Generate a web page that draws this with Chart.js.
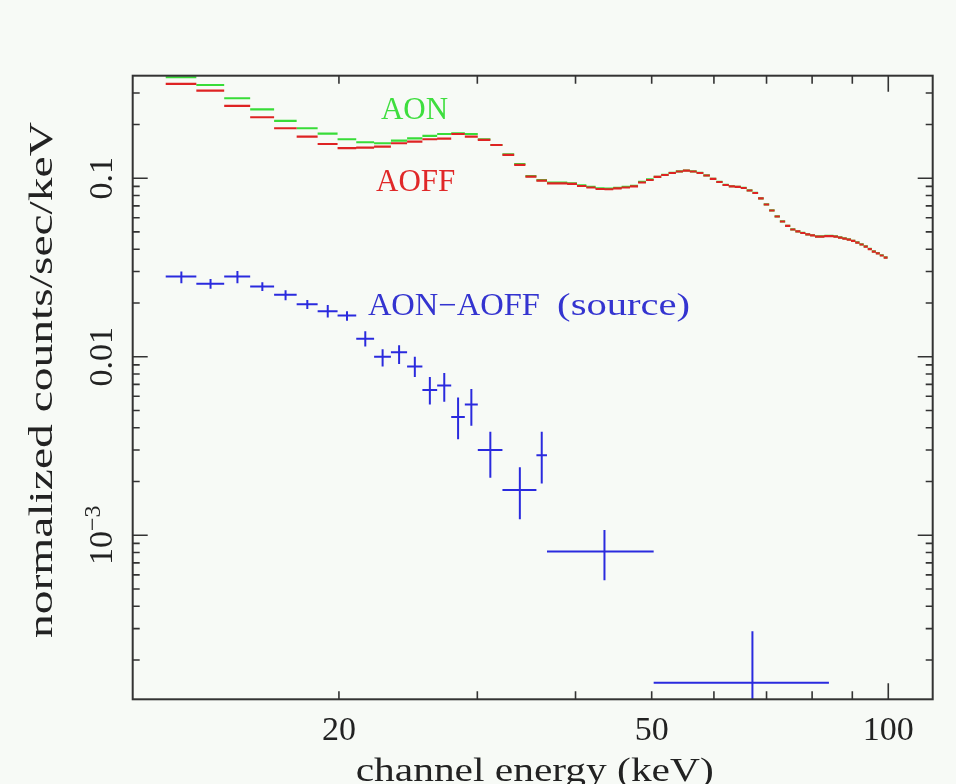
<!DOCTYPE html>
<html><head><meta charset="utf-8">
<script src="https://cdn.jsdelivr.net/npm/chart.js@4/dist/chart.umd.min.js"></script>
<style>html,body{margin:0;padding:0;background:#f7faf6;}canvas{display:block}</style>
</head><body>
<div style="width:956px;height:784px"><canvas id="c" width="956" height="784"></canvas></div>
<script>
// ---------- DATA ----------
// channel bin edges (keV)
const channelEdges = [12.04,13.17,14.29,15.42,16.54,17.67,18.79,19.92,21.04,22.17,23.29,24.42,25.54,26.67,27.79,28.92,30.04,31.17,32.29,33.42,34.54,35.67,36.79,37.92,39.04,40.17,41.29,42.42,43.54,44.67,45.79,46.92,48.04,49.17,50.29,51.42,52.54,53.67,54.79,55.92,57.04,58.17,59.29,60.42,61.54,62.67,63.79,64.92,66.04,67.17,68.29,69.42,70.54,71.67,72.79,73.92,75.04,76.17,77.29,78.42,79.54,80.67,81.79,82.92,84.04,85.17,86.29,87.42,88.54,89.67,90.79,91.92,93.04,94.17,95.29,96.42,97.54,98.67,99.79];
// AON (green) normalized counts/sec/keV per channel
const aonRate = [0.3675,0.3327,0.2804,0.2432,0.2092,0.1904,0.1776,0.1652,0.1589,0.1569,
 0.1622,0.1673,0.1724,0.1768,0.1785,0.1768,0.1652,0.1534,0.1361,0.1201,
 0.1026,0.0976,0.0945,0.0944,0.0936,0.0912,0.0895,0.0878,0.0875,0.0884,
 0.0895,0.0907,0.0954,0.0985,0.1018,0.1044,0.1071,0.1092,0.1104,0.1092,
 0.1071,0.1037,0.0992,0.0954,0.0918,0.0901,0.0895,0.0883,0.0855,0.0828,
 0.0771,0.0713,0.0660,0.0611,0.0573,0.0541,0.0517,0.0504,0.0494,0.0485,
 0.0479,0.0472,0.0472,0.0475,0.0475,0.0472,0.0466,0.0460,0.0454,0.0446,
 0.0437,0.0426,0.0415,0.0402,0.0389,0.0380,0.0370,0.0360];
// AOFF (red)
const aoffRate = [0.3371,0.3092,0.2538,0.2194,0.1904,0.1708,0.1554,0.1473,0.1482,0.1501,
 0.1569,0.1602,0.1652,0.1665,0.1768,0.1708,0.1637,0.1534,0.1349,0.1186,
 0.1019,0.0968,0.0936,0.0936,0.0928,0.0904,0.0887,0.0870,0.0867,0.0876,
 0.0887,0.0899,0.0946,0.0977,0.1016,0.1042,0.1069,0.1090,0.1102,0.1090,
 0.1069,0.1035,0.0990,0.0952,0.0916,0.0899,0.0893,0.0881,0.0853,0.0826,
 0.0770,0.0712,0.0659,0.0610,0.0572,0.0540,0.0516,0.0503,0.0493,0.0484,
 0.0478,0.0471,0.0471,0.0474,0.0474,0.0471,0.0465,0.0459,0.0453,0.0445,
 0.0436,0.0425,0.0414,0.0401,0.0388,0.0379,0.0369,0.0359];
// AON-AOFF (source), grouped bins
const srcELo = [12.04,13.17,14.29,15.42,16.54,17.67,18.79,19.92,21.04,22.17,23.29,24.42,25.54,26.67,27.79,28.92,30.04,32.29,35.67,36.79,50.29];
const srcEHi = [13.17,14.29,15.42,16.54,17.67,18.79,19.92,21.04,22.17,23.29,24.42,25.54,26.67,27.79,28.92,30.04,32.29,35.67,36.79,50.29,84.04];
const srcRate = [0.0281,0.0256,0.0281,0.0247,0.0222,0.0197,0.0180,0.0170,0.0126,0.0100,0.0106,0.0088,0.0065,0.0069,0.0046,0.0054,0.0030,0.00179,0.00281,0.00081,0.000149];
const srcLo   = [0.0258,0.0240,0.0258,0.0233,0.0207,0.0185,0.0166,0.0159,0.0114,0.0088,0.0091,0.0077,0.0054,0.0056,0.00345,0.0041,0.0021,0.00123,0.00195,0.00056,0.00001];
const srcHi   = [0.0300,0.0272,0.0302,0.0261,0.0236,0.0208,0.0195,0.0180,0.0139,0.0110,0.0116,0.0100,0.0077,0.0081,0.0059,0.0066,0.0038,0.0024,0.0038,0.00107,0.00029];
// axis ticks
const xTickValues = [20, 50, 100];
const xTickText = ["20", "50", "100"];
const xMajorTicks = [100];
const xMinorTicks = [20, 30, 40, 50, 60, 70, 80, 90];
const yTickValues = [0.1, 0.01, 0.001];
const yTickText = ["0.1", "0.01", "10^-3"];
const yMinorTicks = [0.3,0.2,0.09,0.08,0.07,0.06,0.05,0.04,0.03,0.02,0.009,0.008,0.007,0.006,0.005,0.004,0.003,0.002,0.0009,0.0008,0.0007,0.0006,0.0005,0.0004,0.0003,0.0002];
const seriesNames = ["AON", "AOFF", "AON\u2212AOFF", "(source)"];
const xTitle = "channel energy (keV)";
const yTitle = "normalized counts/sec/keV";

// ---------- build datasets ----------
function stepSegments(edges, vals) {
  const pts = [];
  for (let i = 0; i < vals.length; i++) {
    pts.push({x: edges[i], y: vals[i]});
    pts.push({x: edges[i+1], y: vals[i]});
    pts.push({x: edges[i+1], y: null});
  }
  return pts;
}
function srcHoriz() {
  const pts = [];
  for (let i = 0; i < srcRate.length; i++) {
    pts.push({x: srcELo[i], y: srcRate[i]});
    pts.push({x: srcEHi[i], y: srcRate[i]});
    pts.push({x: srcEHi[i], y: null});
  }
  return pts;
}
function srcVert() {
  const pts = [];
  for (let i = 0; i < srcRate.length; i++) {
    const m = (srcELo[i] + srcEHi[i]) / 2;
    pts.push({x: m, y: srcLo[i]});
    pts.push({x: m, y: srcHi[i]});
    pts.push({x: m, y: null});
  }
  return pts;
}
const GREEN = '#38dc38', RED = '#de2323', BLUE = '#2a2ade';
const common = {pointRadius: 0, fill: false, tension: 0, spanGaps: false, borderCapStyle: 'butt'};
const datasets = [
  Object.assign({label: 'src-x', data: srcHoriz(), borderColor: BLUE, borderWidth: 2}, common),
  Object.assign({label: 'src-y', data: srcVert(), borderColor: BLUE, borderWidth: 2}, common),
  Object.assign({label: 'AOFF', data: stepSegments(channelEdges, aoffRate), borderColor: RED, borderWidth: 2.2}, common),
  Object.assign({label: 'AON', data: stepSegments(channelEdges, aonRate), borderColor: GREEN, borderWidth: 2.2}, common)
];

// ---------- drawing helpers ----------
const FONT = '"Liberation Serif", "Times New Roman", serif';
function drawText(ctx, text, x, y, size, opts) {
  opts = opts || {};
  ctx.save();
  ctx.font = size + 'px ' + FONT;
  ctx.fillStyle = opts.color || '#222';
  ctx.textBaseline = 'alphabetic';
  ctx.textAlign = opts.align || 'left';
  ctx.translate(x, y);
  if (opts.rotate) ctx.rotate(-Math.PI / 2);
  if (opts.width) {
    const w = ctx.measureText(text).width;
    ctx.scale(opts.width / w, 1);
  }
  ctx.fillText(text, 0, 0);
  ctx.restore();
}

const bgPlugin = {
  id: 'bg',
  beforeDraw(chart) {
    const c = chart.ctx;
    c.save();
    c.fillStyle = '#f7faf6';
    c.fillRect(0, 0, chart.width, chart.height);
    c.restore();
  }
};

const framePlugin = {
  id: 'frame',
  afterDraw(chart) {
    const c = chart.ctx, a = chart.chartArea;
    const xs = chart.scales.x, ys = chart.scales.y;
    c.save();
    c.strokeStyle = '#333';
    c.lineWidth = 2;
    c.strokeRect(a.left, a.top, a.right - a.left, a.bottom - a.top);
    c.lineWidth = 1.6;
    c.beginPath();
    yTickValues.forEach(v => {
      const p = ys.getPixelForValue(v);
      c.moveTo(a.left, p); c.lineTo(a.left + 15, p);
      c.moveTo(a.right, p); c.lineTo(a.right - 15, p);
    });
    yMinorTicks.forEach(v => {
      const p = ys.getPixelForValue(v);
      c.moveTo(a.left, p); c.lineTo(a.left + 7, p);
      c.moveTo(a.right, p); c.lineTo(a.right - 7, p);
    });
    xMajorTicks.forEach(v => {
      const p = xs.getPixelForValue(v);
      c.moveTo(p, a.bottom); c.lineTo(p, a.bottom - 16);
      c.moveTo(p, a.top); c.lineTo(p, a.top + 16);
    });
    xMinorTicks.forEach(v => {
      const p = xs.getPixelForValue(v);
      c.moveTo(p, a.bottom); c.lineTo(p, a.bottom - 8);
      c.moveTo(p, a.top); c.lineTo(p, a.top + 8);
    });
    c.stroke();
    c.restore();

    // x tick labels
    xTickValues.forEach((v, i) => {
      drawText(c, xTickText[i], xs.getPixelForValue(v), 740, 34, {align: 'center'});
    });
    // y tick labels (rotated)
    yTickValues.forEach((v, i) => {
      const p = ys.getPixelForValue(v);
      const t = yTickText[i];
      if (t.indexOf('^') >= 0) {
        const parts = t.split('^');
        const sup = parts[1].replace('-', '\u2212');
        c.save();
        c.font = '34px ' + FONT;
        const w1 = c.measureText(parts[0]).width;
        c.font = '24px ' + FONT;
        const w2 = c.measureText(sup).width;
        c.restore();
        const total = w1 + w2;
        drawText(c, parts[0], 112, p + total / 2, 34, {rotate: true});
        drawText(c, sup, 100, p + total / 2 - w1, 24, {rotate: true});
      } else {
        drawText(c, t, 112, p, 34, {rotate: true, align: 'center'});
      }
    });
    // axis titles
    drawText(c, xTitle, (a.left + a.right) / 2 + 2, 781, 34, {align: 'center', width: 358});
    drawText(c, yTitle, 52, 380, 34, {rotate: true, align: 'center', width: 516});

    // series annotations (placed in data coordinates)
    drawText(c, seriesNames[0], xs.getPixelForValue(22.62), ys.getPixelForValue(0.2146), 31, {color: '#3ede3e'});
    drawText(c, seriesNames[1], xs.getPixelForValue(22.30), ys.getPixelForValue(0.0848), 31, {color: '#e02828'});
    drawText(c, seriesNames[2], xs.getPixelForValue(21.77), ys.getPixelForValue(0.01713), 31, {color: '#3434d0', width: 172});
    drawText(c, seriesNames[3], xs.getPixelForValue(37.9), ys.getPixelForValue(0.01713), 31, {color: '#3434d0', width: 133});
  }
};

new Chart(document.getElementById('c'), {
  type: 'line',
  data: {datasets},
  options: {
    responsive: false,
    animation: false,
    devicePixelRatio: 1,
    layout: {padding: {top: 75.7, right: 23.3, left: 0, bottom: 0}},
    plugins: {legend: {display: false}, tooltip: {enabled: false}},
    scales: {
      x: {type: 'logarithmic', min: 10.93, max: 113.9,
          ticks: {display: false}, grid: {display: false}, border: {display: false},
          afterFit: s => { s.height = 84.7; }},
      y: {type: 'logarithmic', min: 1.205e-4, max: 0.375,
          ticks: {display: false}, grid: {display: false}, border: {display: false},
          afterFit: s => { s.width = 132.7; }}
    }
  },
  plugins: [bgPlugin, framePlugin]
});
</script>
</body></html>
